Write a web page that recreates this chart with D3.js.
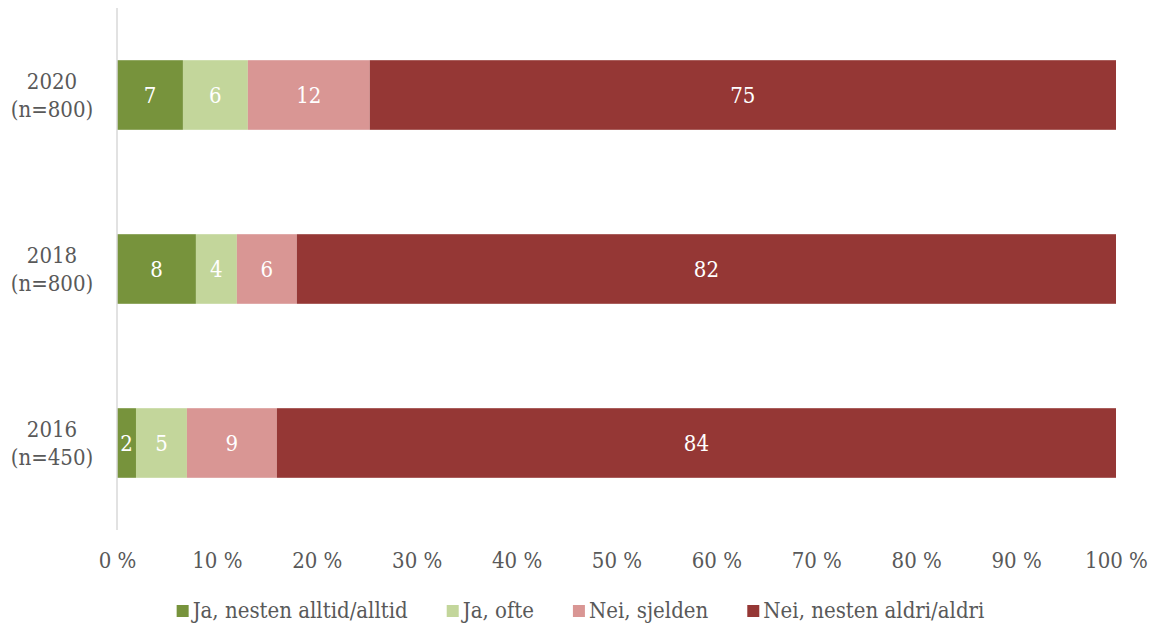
<!DOCTYPE html>
<html>
<head>
<meta charset="utf-8">
<script src="https://cdn.jsdelivr.net/npm/d3@7"></script>
<style>
  body { margin: 0; background: #fff; }
  text { font-family: "DejaVu Serif Condensed", "DejaVu Serif", serif; font-stretch: condensed; }
</style>
</head>
<body>
<div id="chart"></div>
<script>
const years = ["2020", "2018", "2016"];
const sampleSizes = ["(n=800)", "(n=800)", "(n=450)"];
const seriesNames = ["Ja, nesten alltid/alltid", "Ja, ofte", "Nei, sjelden", "Nei, nesten aldri/aldri"];
const colors = ["#77933c", "#c3d69b", "#d99694", "#953735"];
// shares per year (2020, 2018, 2016)
const alltid = [6.6, 7.9, 1.9];
const ofte = [6.5, 4.1, 5.1];
const sjelden = [12.2, 6.0, 9.0];
const aldri = [74.7, 82.0, 84.0];
const labels = [[7, 6, 12, 75], [8, 4, 6, 82], [2, 5, 9, 84]];
const ticks = [0, 10, 20, 30, 40, 50, 60, 70, 80, 90, 100];

const W = 1157, H = 626;
const x0 = 117, x1 = 1116, yTop = 8, yBot = 530;
const fontSize = 22;
const fontFamily = '"DejaVu Serif Condensed", "DejaVu Serif", serif';

const svg = d3.select("#chart").append("svg").attr("width", W).attr("height", H);

const x = d3.scaleLinear().domain([0, 100]).range([x0, x1]);
const y = d3.scaleBand().domain(years).range([yTop, yBot]).paddingInner(0.6).paddingOuter(0.3);

const rows = years.map((yr, i) => {
  const vals = [alltid[i], ofte[i], sjelden[i], aldri[i]];
  let acc = 0;
  return vals.map((v, j) => {
    const seg = { year: yr, start: acc, end: acc + v, color: colors[j], label: labels[i][j] };
    acc += v;
    return seg;
  });
}).flat();

svg.selectAll(".seg").data(rows).join("rect")
  .attr("class", "seg")
  .attr("x", (d) => x(d.start))
  .attr("y", (d) => y(d.year))
  .attr("width", (d) => x(d.end) - x(d.start))
  .attr("height", y.bandwidth())
  .attr("fill", (d) => d.color);

svg.selectAll(".seglabel").data(rows).join("text")
  .attr("class", "seglabel")
  .attr("x", (d) => (x(d.start) + x(d.end)) / 2)
  .attr("y", (d) => y(d.year) + y.bandwidth() / 2 + 8)
  .attr("text-anchor", "middle")
  .attr("fill", "#fff")
  .style("font-size", fontSize + "px")
  .text((d) => d.label);

// vertical axis line
svg.append("line")
  .attr("x1", x0).attr("x2", x0).attr("y1", yTop).attr("y2", yBot)
  .attr("stroke", "#d9d9d9").attr("stroke-width", 1.5);

// category labels
years.forEach((yr, i) => {
  const cy = y(yr) + y.bandwidth() / 2;
  const t = svg.append("text")
    .attr("text-anchor", "middle")
    .attr("fill", "#595959")
    .style("font-size", fontSize + "px");
  t.append("tspan").attr("x", 52).attr("y", cy - 6).text(yr);
  t.append("tspan").attr("x", 52).attr("y", cy + 22).text(sampleSizes[i]);
});

// x axis tick labels
const xAxis = d3.axisBottom(x).tickValues(ticks).tickSize(0).tickFormat((d) => d + " %");
const gx = svg.append("g").attr("transform", `translate(0,${yBot})`).call(xAxis);
gx.select(".domain").remove();
gx.selectAll("text")
  .attr("y", 38).attr("dy", 0)
  .attr("fill", "#595959")
  .style("font-size", fontSize + "px")
  .style("font-family", fontFamily);

// legend, centred under the chart
const legend = svg.append("g");
let lx = 0;
seriesNames.forEach((name, i) => {
  legend.append("rect")
    .attr("x", lx).attr("y", 605).attr("width", 12).attr("height", 12)
    .attr("fill", colors[i]);
  const t = legend.append("text")
    .attr("x", lx + 16).attr("y", 618)
    .attr("fill", "#595959")
    .style("font-size", fontSize + "px")
    .text(name);
  lx += 16 + t.node().getComputedTextLength() + (i < seriesNames.length - 1 ? 39 : 0);
});
legend.attr("transform", `translate(${(W - lx) / 2 + 2},0)`);
</script>
</body>
</html>
